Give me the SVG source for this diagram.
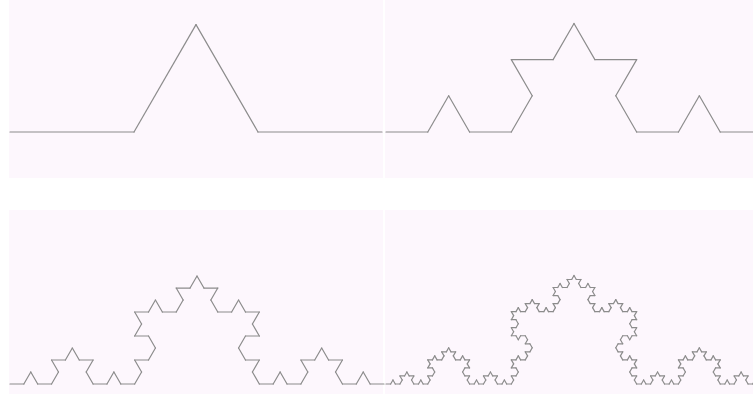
<svg xmlns="http://www.w3.org/2000/svg" xmlns:xlink="http://www.w3.org/1999/xlink" width="753" height="394" viewBox="0 0 753 394">
<style>
.panel{fill:#fdf7fd}
.k{stroke:#8c8c8c;stroke-width:1.2;stroke-linecap:round;fill:none}
</style>
<defs>
<line id="k0" x1="0" y1="0" x2="1" y2="0" vector-effect="non-scaling-stroke"/>
<g id="k1">
<use xlink:href="#k0" transform="scale(0.33333333)"/>
<use xlink:href="#k0" transform="translate(0.33333333,0) rotate(-60) scale(0.33333333)"/>
<use xlink:href="#k0" transform="translate(0.5,-0.28867513) rotate(60) scale(0.33333333)"/>
<use xlink:href="#k0" transform="translate(0.66666667,0) scale(0.33333333)"/>
</g>
<g id="k2">
<use xlink:href="#k1" transform="scale(0.33333333)"/>
<use xlink:href="#k1" transform="translate(0.33333333,0) rotate(-60) scale(0.33333333)"/>
<use xlink:href="#k1" transform="translate(0.5,-0.28867513) rotate(60) scale(0.33333333)"/>
<use xlink:href="#k1" transform="translate(0.66666667,0) scale(0.33333333)"/>
</g>
<g id="k3">
<use xlink:href="#k2" transform="scale(0.33333333)"/>
<use xlink:href="#k2" transform="translate(0.33333333,0) rotate(-60) scale(0.33333333)"/>
<use xlink:href="#k2" transform="translate(0.5,-0.28867513) rotate(60) scale(0.33333333)"/>
<use xlink:href="#k2" transform="translate(0.66666667,0) scale(0.33333333)"/>
</g>
<g id="k4">
<use xlink:href="#k3" transform="scale(0.33333333)"/>
<use xlink:href="#k3" transform="translate(0.33333333,0) rotate(-60) scale(0.33333333)"/>
<use xlink:href="#k3" transform="translate(0.5,-0.28867513) rotate(60) scale(0.33333333)"/>
<use xlink:href="#k3" transform="translate(0.66666667,0) scale(0.33333333)"/>
</g>
</defs>
<rect width="753" height="394" fill="#ffffff"/>
<rect class="panel" x="9" y="0" width="374" height="178"/>
<rect class="panel" x="385" y="0" width="368" height="178"/>
<rect class="panel" x="9" y="210" width="374" height="184"/>
<rect class="panel" x="385" y="210" width="368" height="184"/>
<g class="k">
<use xlink:href="#k1" transform="translate(10,132) scale(372)"/>
<use xlink:href="#k2" transform="translate(386,132) scale(376)"/>
<use xlink:href="#k3" transform="translate(10,384) scale(374)"/>
<use xlink:href="#k4" transform="translate(386,384) scale(376)"/>
</g>
</svg>
